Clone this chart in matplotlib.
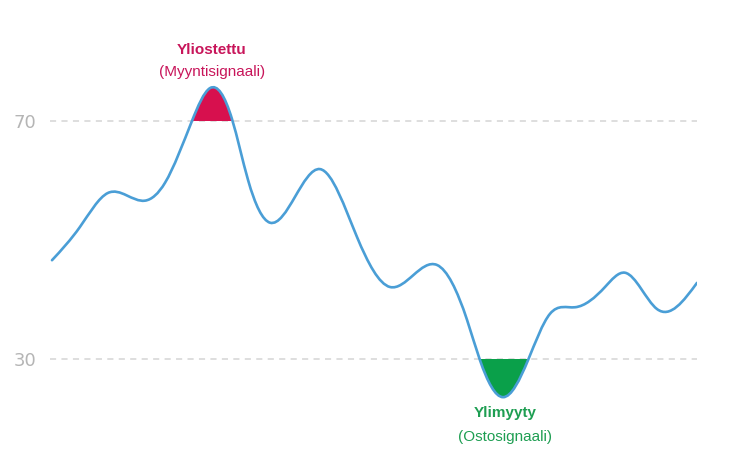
import matplotlib.pyplot as plt
from matplotlib.path import Path
from matplotlib.patches import PathPatch
import numpy as np

# RSI-käyrä: aika ja arvo (luettu kuvasta käännepisteistä)
t = [2, 30, 58, 95, 115, 142, 160, 182, 198, 220, 270, 307, 340, 387, 417, 430, 453, 478,
     500, 525, 555, 575, 607, 647]
rsi = [46.6, 52.2, 57.9, 56.6, 59.6, 70.0, 75.5, 70.3, 60.1, 52.9, 61.9, 50.5, 42.1, 45.8,
       36.6, 29.8, 23.6, 29.8, 37.6, 38.7, 42.1, 44.5, 38.4, 42.8]
levels = [70, 30]

line_col = "#4a9ed6"
red = "#d7104e"
green = "#0aa04a"
fonts = ["Liberation Sans Narrow", "Liberation Sans", "DejaVu Sans"]
YMIN, YMAX = 11.2, 90.3


# pehmeä käyrä pisteiden kautta (luonnollinen kuutiosplini Bezier-polkuna)
def smooth_path(xs, ys):
    x = np.asarray(xs, float)
    y = np.asarray(ys, float)
    n = len(x)
    h = np.diff(x)
    d = np.diff(y) / h
    A = np.zeros((n, n))
    b = np.zeros(n)
    A[0, 0] = A[-1, -1] = 1
    for i in range(1, n - 1):
        A[i, i - 1] = h[i - 1]
        A[i, i] = 2 * (h[i - 1] + h[i])
        A[i, i + 1] = h[i]
        b[i] = 6 * (d[i] - d[i - 1])
    M = np.linalg.solve(A, b)
    verts = [(x[0], y[0])]
    codes = [Path.MOVETO]
    for i in range(n - 1):
        s0 = d[i] - h[i] * (2 * M[i] + M[i + 1]) / 6
        s1 = d[i] + h[i] * (M[i] + 2 * M[i + 1]) / 6
        verts += [(x[i] + h[i] / 3, y[i] + s0 * h[i] / 3),
                  (x[i + 1] - h[i] / 3, y[i + 1] - s1 * h[i] / 3),
                  (x[i + 1], y[i + 1])]
        codes += [Path.CURVE4] * 3
    return verts, codes


fig = plt.figure(figsize=(7.31, 4.71), dpi=100)
ax = fig.add_axes([50 / 731, 0, 647 / 731, 1])
ax.set_xlim(0, 647)
ax.set_ylim(YMIN, YMAX)

for lv in levels:
    ax.axhline(lv, color="#d4d4d4", lw=1.1, ls=(0, (4, 3.5)), zorder=1)

verts, codes = smooth_path(t, rsi)

# yliostettu: yli 70 ja käyrän alla
under = Path(verts + [(t[-1], YMIN), (t[0], YMIN), verts[0]],
             codes + [Path.LINETO, Path.LINETO, Path.CLOSEPOLY])
span = ax.axhspan(70, YMAX, color=red, lw=0, zorder=2)
span.set_clip_path(PathPatch(under, transform=ax.transData))

# ylimyyty: alle 30 ja käyrän yllä
over = Path(verts + [(t[-1], YMAX), (t[0], YMAX), verts[0]],
            codes + [Path.LINETO, Path.LINETO, Path.CLOSEPOLY])
span = ax.axhspan(YMIN, 30, color=green, lw=0, zorder=2)
span.set_clip_path(PathPatch(over, transform=ax.transData))

ax.add_patch(PathPatch(Path(verts, codes), fill=False, edgecolor=line_col, lw=1.9,
                       capstyle="round", joinstyle="round", zorder=3))

ax.text(162, 81.9, "Yliostettu", color="#c8155a", fontsize=11, fontweight="bold",
        ha="center", va="center", family=fonts)
ax.text(162, 78.2, "(Myyntisignaali)", color="#c8155a", fontsize=11,
        ha="center", va="center", family=fonts)
ax.text(455, 20.9, "Ylimyyty", color="#1e9e52", fontsize=11, fontweight="bold",
        ha="center", va="center", family=fonts)
ax.text(455, 16.9, "(Ostosignaali)", color="#1e9e52", fontsize=11,
        ha="center", va="center", family=fonts)

ax.set_yticks(levels)
ax.set_yticklabels([str(v) for v in levels], color="#b5b5b5", fontsize=13, family="DejaVu Sans")
ax.tick_params(axis="y", length=0, pad=10)
ax.set_xticks([])
for s in ax.spines.values():
    s.set_visible(False)

fig.savefig("out.png", dpi=100)
